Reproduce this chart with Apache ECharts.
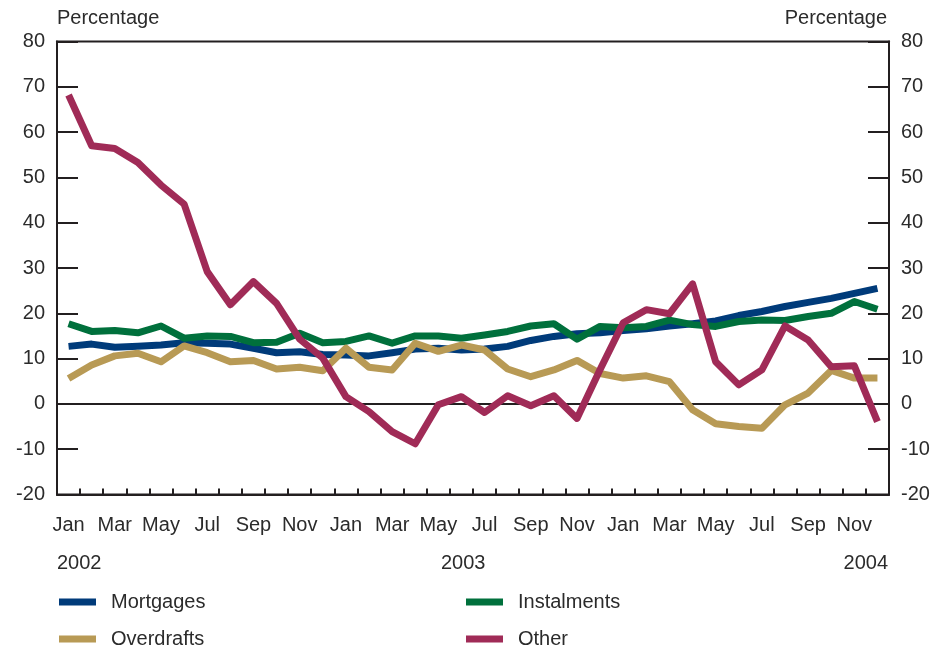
<!DOCTYPE html>
<html>
<head>
<meta charset="utf-8">
<script src="https://cdn.jsdelivr.net/npm/echarts@6/dist/echarts.min.js"></script>
<style>
html,body{margin:0;padding:0;background:#fff;}
#chart{width:939px;height:651px;}
</style>
</head>
<body>
<div id="chart"></div>
<script>
var months = ['Jan','Feb','Mar','Apr','May','Jun','Jul','Aug','Sep','Oct','Nov','Dec',
              'Jan','Feb','Mar','Apr','May','Jun','Jul','Aug','Sep','Oct','Nov','Dec',
              'Jan','Feb','Mar','Apr','May','Jun','Jul','Aug','Sep','Oct','Nov','Dec'];
var yearLabels = ['2002','2003','2004'];
var mortgages = [12.7,13.2,12.5,12.7,13.0,13.5,13.4,13.2,12.3,11.3,11.5,10.9,
                 10.8,10.6,11.3,12.1,12.3,11.9,12.1,12.7,14.0,14.9,15.5,15.7,
                 16.2,16.6,17.2,17.7,18.3,19.5,20.4,21.5,22.4,23.3,24.4,25.5];
var instalments = [17.7,16.0,16.2,15.7,17.2,14.5,15.0,14.9,13.5,13.6,15.6,13.5,
                   13.8,15.0,13.4,15.0,15.0,14.5,15.2,16.0,17.2,17.7,14.3,17.1,
                   16.8,17.1,18.5,17.5,17.1,18.2,18.5,18.4,19.3,20.0,22.6,20.9];
var overdrafts = [5.6,8.6,10.6,11.2,9.3,12.8,11.3,9.3,9.6,7.7,8.1,7.3,
                  12.3,8.1,7.5,13.4,11.6,13.0,11.9,7.7,6.0,7.5,9.6,6.7,
                  5.7,6.2,4.9,-1.3,-4.4,-5.0,-5.4,-0.2,2.4,7.4,5.7,5.7];
var other = [68.2,57.0,56.4,53.3,48.3,44.1,29.2,21.9,27.0,22.2,14.3,10.1,
             1.6,-1.7,-6.1,-8.8,-0.2,1.6,-1.9,1.8,-0.4,1.8,-3.2,7.6,
             17.9,20.8,19.9,26.5,9.3,4.2,7.5,17.2,14.1,8.2,8.4,-3.9];

var FONT = 'Liberation Sans';
var TXT = '#2b2b2b';
var AX = '#231f20';
var zeroColors = [];
for (var v = -20; v <= 80; v += 10) zeroColors.push(v === 0 ? AX : 'rgba(0,0,0,0)');

function yAx(pos) {
  return {
    type: 'value', position: pos, min: -20, max: 80, interval: 10,
    axisLine: {show: true, lineStyle: {color: AX, width: 2}},
    axisTick: {show: true, inside: true, length: 21, lineStyle: {color: AX, width: 2}},
    axisLabel: {color: TXT, fontFamily: FONT, fontSize: 20, margin: 12},
    splitLine: pos === 'left' ? {show: true, lineStyle: {color: zeroColors, width: 2}} : {show: false}
  };
}
function line(name, data, color) {
  return {name: name, type: 'line', data: data, showSymbol: false, symbol: 'none',
          lineStyle: {color: color, width: 7, join: 'round', cap: 'butt'},
          itemStyle: {color: color}, animation: false};
}
function legendCol(names, left) {
  return {data: names, orient: 'vertical', left: left, bottom: -3, itemWidth: 37, itemHeight: 7,
          itemGap: 17, icon: 'rect', selectedMode: false,
          textStyle: {color: TXT, fontFamily: FONT, fontSize: 20, padding: [0,0,0,10]}};
}
var chart = echarts.init(document.getElementById('chart'));
chart.setOption({
  animation: false,
  backgroundColor: '#fff',
  grid: {left: 57, right: 50, top: 41.5, bottom: 156.5, show: true, borderColor: AX, borderWidth: 2},
  xAxis: {
    type: 'category', data: months, boundaryGap: true,
    axisLine: {show: true, onZero: false, lineStyle: {color: AX, width: 2}},
    axisTick: {show: true, inside: true, length: 6, interval: 0, lineStyle: {color: AX, width: 2}},
    axisLabel: {interval: 1, color: TXT, fontFamily: FONT, fontSize: 20, margin: 21},
    splitLine: {show: false}
  },
  yAxis: [yAx('left'), yAx('right')],
  legend: [legendCol(['Mortgages', 'Overdrafts'], 54), legendCol(['Instalments', 'Other'], 461)],
  graphic: [
    {type: 'text', left: 57, top: 8, style: {text: 'Percentage', fill: TXT, font: '20px ' + FONT}},
    {type: 'text', right: 52, top: 8, style: {text: 'Percentage', fill: TXT, font: '20px ' + FONT}},
    {type: 'text', left: 57, top: 553, style: {text: yearLabels[0], fill: TXT, font: '20px ' + FONT}},
    {type: 'text', left: 441, top: 553, style: {text: yearLabels[1], fill: TXT, font: '20px ' + FONT}},
    {type: 'text', right: 51, top: 553, style: {text: yearLabels[2], fill: TXT, font: '20px ' + FONT}}
  ],
  series: [
    line('Mortgages', mortgages, '#003b7a'),
    line('Instalments', instalments, '#00703c'),
    line('Overdrafts', overdrafts, '#b89a55'),
    line('Other', other, '#a02b57')
  ]
});
</script>
</body>
</html>
